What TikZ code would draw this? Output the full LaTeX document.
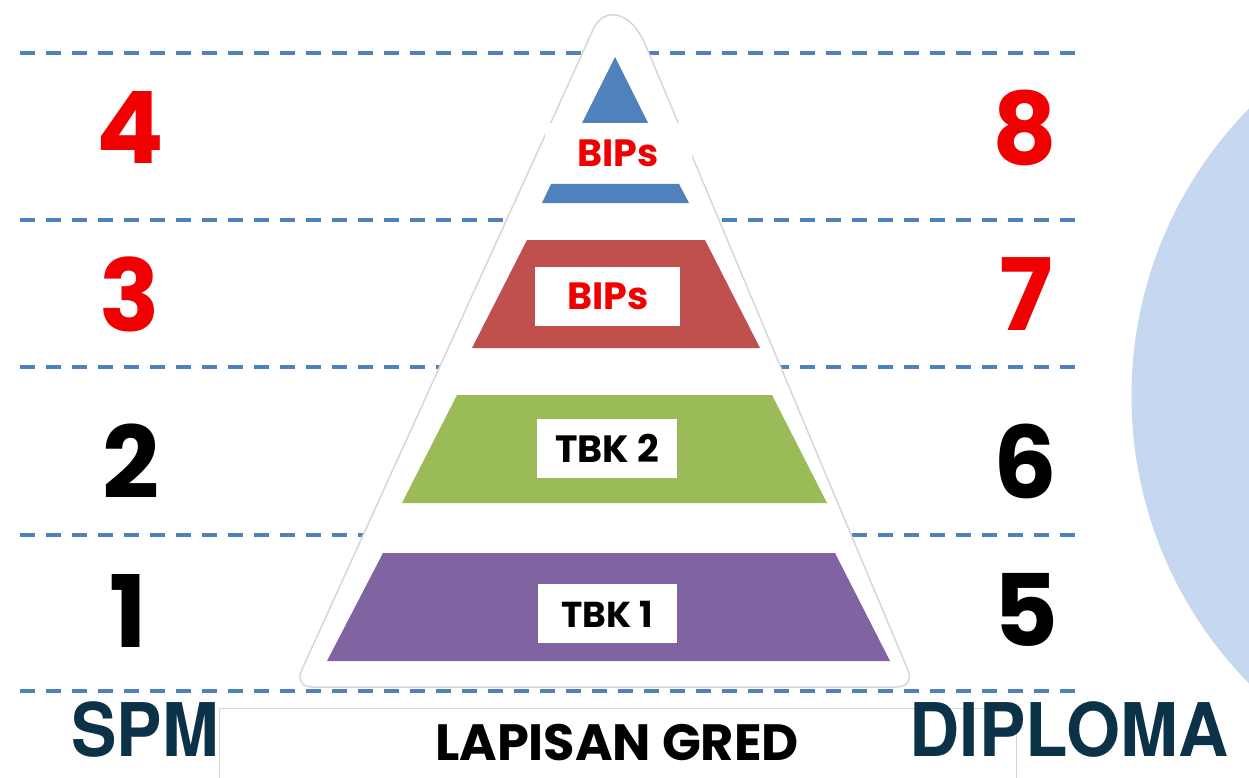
\documentclass[tikz,border=0pt]{standalone}
\usepackage{fontspec}
\newfontfamily\pop{Poppins}
\newfontfamily\arsb{texgyreheros-bold.otf}
\definecolor{dashblue}{RGB}{79,129,189}
\definecolor{topblue}{RGB}{79,129,189}
\definecolor{layred}{RGB}{192,80,77}
\definecolor{laygreen}{RGB}{155,187,89}
\definecolor{laypurple}{RGB}{128,100,162}
\definecolor{numred}{RGB}{240,0,0}
\definecolor{navy}{RGB}{12,50,71}
\definecolor{circblue}{RGB}{198,216,240}
\definecolor{outlinegray}{RGB}{215,215,215}
\definecolor{framegray}{RGB}{215,215,215}
\tikzset{
  dashline/.style={draw=dashblue, line width=3.3pt, dash pattern=on 15pt off 11pt},
  num/.style={inner sep=0pt, font=\pop\bfseries\fontsize{100}{100}\selectfont},
  lbl/.style={inner sep=0pt, font=\pop\bfseries\fontsize{36}{36}\selectfont},
  big/.style={inner sep=0pt, text=navy, font=\arsb\fontsize{74}{74}\selectfont},
  whitebox/.style={fill=white, draw=none},
}
\begin{document}
\begin{tikzpicture}[x=1pt,y=-1pt]
\useasboundingbox (0,0) rectangle (1249,778);
\clip (0,0) rectangle (1249,778);
\fill[white] (0,0) rectangle (1249,778);
% right circle
\fill[circblue] (1542,396) circle[radius=410.5];
% dashed guide lines
\foreach \yy in {53,220,367,535,691} {
  \draw[dashline] (20,\yy) -- (1077,\yy);
}
% pyramid outline
\path[fill=white, draw=outlinegray, line width=1.5pt]
  (586,45.3) .. controls (603,7.6) and (630,8) .. (646,46.2)
  [rounded corners=18pt] -- (915,687) -- (294,687) -- cycle;
% top blue piece
\fill[topblue] (615,57) -- (648,123) -- (582,123) -- cycle;
\fill[whitebox] (545,123) rectangle (692,184);
\fill[topblue] (551,184) -- (679,184) -- (689,203) -- (542,203) -- cycle;
% red layer
\fill[layred] (527,240) -- (705,240) -- (760,348) -- (472,348) -- cycle;
\fill[whitebox] (535,267) rectangle (680,326);
% green layer
\fill[laygreen] (457,395) -- (772,395) -- (827,503) -- (402,503) -- cycle;
\fill[whitebox] (537,419) rectangle (677,478);
% purple layer
\fill[laypurple] (383,553) -- (835,553) -- (890,661) -- (327,661) -- cycle;
\fill[whitebox] (538,584) rectangle (677,643);
% layer labels
\node[lbl, text=numred, anchor=base, font=\pop\bfseries\fontsize{38}{38}\selectfont] (l8) at (618,167) {BIPs};
\node[lbl, text=numred, anchor=base, font=\pop\bfseries\fontsize{38}{38}\selectfont] (l7) at (608,309.5) {BIPs};
\node[lbl, text=black, font=\pop\bfseries\fontsize{38}{38}\selectfont] (l6) at (607,448.5) {TBK 2};
\node[lbl, text=black] (l5) at (607,614.5) {TBK 1};
% numbers
\node[num, text=numred] (n4) at (130,128) {4};
\node[num, text=numred] (n3) at (130,294) {3};
\node[num, text=black] (n2) at (131,461) {2};
\node[num, text=black] (n1) at (128,611) {1};
\node[num, text=numred] (n8) at (1025,128) {8};
\node[num, text=numred] (n7) at (1026,294) {7};
\node[num, text=black] (n6) at (1025,461) {6};
\node[num, text=black] (n5) at (1026,610) {5};
% bottom frame
\draw[framegray, line width=1pt] (219,778) -- (219,708) -- (1016,708) -- (1016,778);
\node[inner sep=0pt, font=\pop\bfseries\fontsize{51}{51}\selectfont] (lap) at (617,743) {LAPISAN GRED};
\node[big] (spm) at (145,730) {\scalebox{0.92}[1]{SPM}};
\node[big] (dip) at (1069,730) {\scalebox{0.94}[1]{DIPLOMA}};
\end{tikzpicture}
\end{document}
